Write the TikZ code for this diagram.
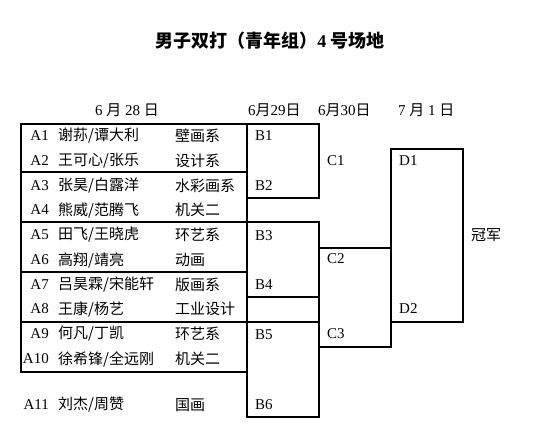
\documentclass[tikz,border=0pt]{standalone}
\usepackage{fontspec}
\setmainfont{Liberation Serif}
\newfontfamily\cjk{Noto Sans CJK SC}
\usetikzlibrary{positioning}

\tikzset{
  frame/.style={line width=1.6pt, black, line cap=rect},
  lbl/.style={anchor=west, inner sep=0pt, font=\fontsize{15}{17}\selectfont},
  seed/.style={anchor=east, inner sep=0pt, font=\fontsize{15}{17}\selectfont},
}

\begin{document}
\begin{tikzpicture}[x=1pt, y=-1pt]
  \useasboundingbox (0,0) rectangle (538,443);

  % title
  \node[font=\fontsize{18}{20}\selectfont\bfseries] (title) at (270,41)
    {{\cjk 男子双打（青年组）}4 {\cjk 号场地}};

  % dates
  \node[lbl] (d28) at (95,110) {6 {\cjk 月} 28 {\cjk 日}};
  \node[lbl] (d29) at (248,110) {6{\cjk 月}29{\cjk 日}};
  \node[lbl] (d30) at (318,110) {6{\cjk 月}30{\cjk 日}};
  \node[lbl] (d01) at (398,110) {7 {\cjk 月} 1 {\cjk 日}};

  % first round: seeds, pairs, departments
  \node[seed] (a1) at (49,136) {A1};
  \node[lbl] (p1) at (58,136) {\cjk 谢荪/谭大利};
  \node[lbl] (u1) at (175,136) {\cjk 壁画系};
  \node[seed] (a2) at (49,161) {A2};
  \node[lbl] (p2) at (58,161) {\cjk 王可心/张乐};
  \node[lbl] (u2) at (175,161) {\cjk 设计系};
  \node[seed] (a3) at (49,186) {A3};
  \node[lbl] (p3) at (58,186) {\cjk 张昊/白露洋};
  \node[lbl] (u3) at (175,186) {\cjk 水彩画系};
  \node[seed] (a4) at (49,210) {A4};
  \node[lbl] (p4) at (58,210) {\cjk 熊威/范腾飞};
  \node[lbl] (u4) at (175,210) {\cjk 机关二};
  \node[seed] (a5) at (49,235) {A5};
  \node[lbl] (p5) at (58,235) {\cjk 田飞/王晓虎};
  \node[lbl] (u5) at (175,235) {\cjk 环艺系};
  \node[seed] (a6) at (49,260) {A6};
  \node[lbl] (p6) at (58,260) {\cjk 高翔/靖亮};
  \node[lbl] (u6) at (175,260) {\cjk 动画};
  \node[seed] (a7) at (49,285) {A7};
  \node[lbl] (p7) at (58,285) {\cjk 吕昊霖/宋能轩};
  \node[lbl] (u7) at (175,285) {\cjk 版画系};
  \node[seed] (a8) at (49,309) {A8};
  \node[lbl] (p8) at (58,309) {\cjk 王康/杨艺};
  \node[lbl] (u8) at (175,309) {\cjk 工业设计};
  \node[seed] (a9) at (49,334) {A9};
  \node[lbl] (p9) at (58,334) {\cjk 何凡/丁凯};
  \node[lbl] (u9) at (175,334) {\cjk 环艺系};
  \node[seed] (a10) at (49,359) {A10};
  \node[lbl] (p10) at (58,359) {\cjk 徐希锋/全远刚};
  \node[lbl] (u10) at (175,359) {\cjk 机关二};
  \node[seed] (a11) at (49,405) {A11};
  \node[lbl] (p11) at (58,405) {\cjk 刘杰/周赞};
  \node[lbl] (u11) at (175,405) {\cjk 国画};

  % later rounds
  \node[lbl] (b1) at (255,136) {B1};
  \node[lbl] (b2) at (255,186) {B2};
  \node[lbl] (b3) at (255,236) {B3};
  \node[lbl] (b4) at (255,285) {B4};
  \node[lbl] (b5) at (255,335) {B5};
  \node[lbl] (b6) at (255,405) {B6};
  \node[lbl] (c1) at (327,161) {C1};
  \node[lbl] (c2) at (327,259) {C2};
  \node[lbl] (c3) at (327,334) {C3};
  \node[lbl] (dd1) at (399,161) {D1};
  \node[lbl] (dd2) at (399,309) {D2};
  \node[lbl] (champ) at (471,235) {\cjk 冠军};

  % table of pairs
  \draw[frame] (21,124) rectangle (247,372);
  \draw[frame] (21,172) -- (247,172);
  \draw[frame] (21,222) -- (247,222);
  \draw[frame] (21,272) -- (247,272);
  \draw[frame] (21,322) -- (247,322);

  % second round boxes
  \draw[frame] (247,124) -- (319,124) -- (319,198) -- (247,198);
  \draw[frame] (247,372) -- (247,417) -- (319,417) -- (319,222) -- (247,222);
  \draw[frame] (247,297) -- (319,297);
  \draw[frame] (247,322) -- (319,322);

  % third round and final
  \draw[frame] (319,248) -- (391,248) -- (391,347) -- (319,347);
  \draw[frame] (391,149) rectangle (463,322);
\end{tikzpicture}
\end{document}
